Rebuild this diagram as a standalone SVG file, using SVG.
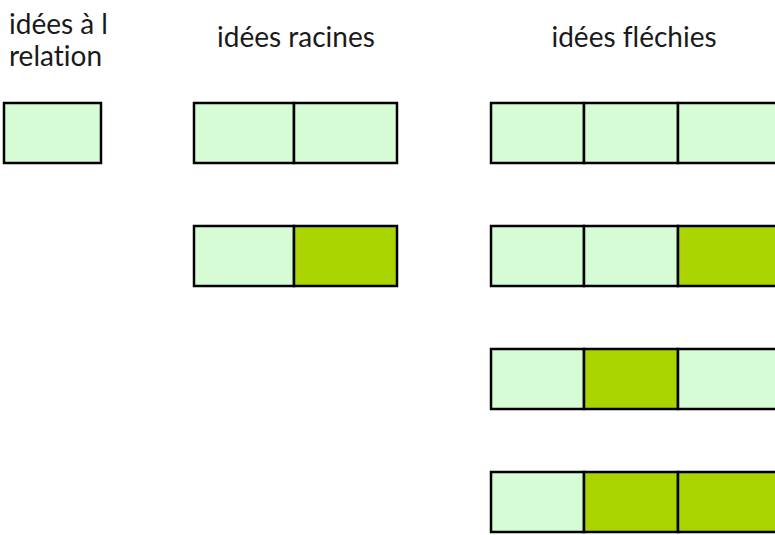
<svg xmlns="http://www.w3.org/2000/svg" width="775" height="535" viewBox="0 0 775 535">
<style>
.t{font-family:"Lato","Liberation Sans",sans-serif;font-size:28px;fill:#1a1a1a;font-variant-ligatures:none;font-feature-settings:"liga" 0}
.l{fill:#D5FCD5;stroke:#000;stroke-width:2.5}
.d{fill:#AAD400;stroke:#000;stroke-width:2.5}
</style>
<rect width="775" height="535" fill="#fff"/>
<g id="labels">
<text class="t" x="9" y="34">idées à l</text>
<text class="t" x="9" y="66">relation</text>
<text class="t" x="296" y="47" text-anchor="middle">idées racines</text>
<text class="t" x="634" y="47" text-anchor="middle">idées fléchies</text>
</g>
<g id="single">
<rect class="l" x="4" y="103" width="97" height="60"/>
</g>
<g id="racines1">
<rect class="l" x="194" y="103" width="100" height="60"/>
<rect class="l" x="294" y="103" width="103" height="60"/>
</g>
<g id="racines2">
<rect class="l" x="194" y="226" width="100" height="60"/>
<rect class="d" x="294" y="226" width="103" height="60"/>
</g>
<g id="flechies1">
<rect class="l" x="491" y="103" width="93" height="60"/>
<rect class="l" x="584" y="103" width="94" height="60"/>
<rect class="l" x="678" y="103" width="110" height="60"/>
</g>
<g id="flechies2">
<rect class="l" x="491" y="226" width="93" height="60"/>
<rect class="l" x="584" y="226" width="94" height="60"/>
<rect class="d" x="678" y="226" width="110" height="60"/>
</g>
<g id="flechies3">
<rect class="l" x="491" y="349" width="93" height="60"/>
<rect class="d" x="584" y="349" width="94" height="60"/>
<rect class="l" x="678" y="349" width="110" height="60"/>
</g>
<g id="flechies4">
<rect class="l" x="491" y="472" width="93" height="60"/>
<rect class="d" x="584" y="472" width="94" height="60"/>
<rect class="d" x="678" y="472" width="110" height="60"/>
</g>
<g id="connectors"></g>
</svg>
